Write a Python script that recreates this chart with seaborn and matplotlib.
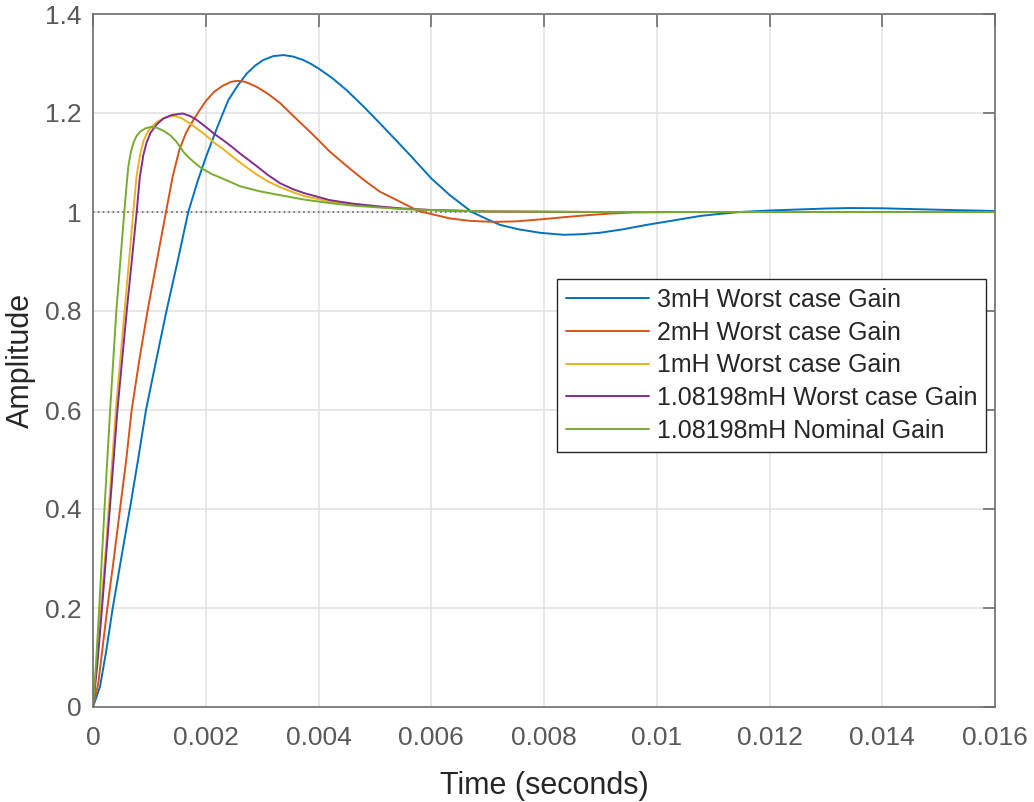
import matplotlib
matplotlib.use("Agg")
import matplotlib.pyplot as plt
import seaborn as sns
import pandas as pd

# Step responses: time in milliseconds, amplitude
t_3mh = [0, 0.124, 0.23, 0.35, 0.5, 0.668, 0.8, 0.94, 1.12, 1.307, 1.5, 1.69, 1.85, 2.0, 2.2, 2.4,
         2.57, 2.73, 2.88, 3.02, 3.2, 3.38, 3.55, 3.73, 3.87, 4.0, 4.25, 4.5, 4.8, 5.09, 5.4, 5.68,
         6.0, 6.33, 6.72, 7.0, 7.22, 7.55, 7.93, 8.34, 8.65, 8.99, 9.4, 9.82, 10.3, 10.77, 11.1,
         11.48, 12.0, 12.5, 13.0, 13.43, 14.0, 14.5, 15.2, 16.0]
a_3mh = [0, 0.041, 0.11, 0.2, 0.3, 0.41, 0.5, 0.6, 0.7, 0.802, 0.9, 1.0, 1.06, 1.11, 1.17, 1.226,
         1.256, 1.28, 1.296, 1.307, 1.315, 1.317, 1.314, 1.307, 1.299, 1.29, 1.27, 1.246, 1.213,
         1.179, 1.142, 1.108, 1.068, 1.034, 1.0, 0.985, 0.974, 0.965, 0.958, 0.954, 0.955, 0.958,
         0.965, 0.974, 0.983, 0.992, 0.996, 1.0, 1.003, 1.005, 1.007, 1.008, 1.0075, 1.006, 1.004,
         1.002]

t_2mh = [0, 0.094, 0.17, 0.254, 0.37, 0.49, 0.59, 0.686, 0.82, 0.97, 1.13, 1.295, 1.41, 1.53, 1.65,
         1.78, 1.9, 2.0, 2.15, 2.3, 2.45, 2.56, 2.7, 2.9, 3.1, 3.32, 3.5, 3.7, 3.85, 4.0, 4.2, 4.5,
         4.8, 5.09, 5.39, 5.77, 6.0, 6.33, 6.7, 7.1, 7.5, 7.93, 8.4, 8.82, 9.2, 9.58, 10.5, 12.0,
         14.0, 16.0]
a_2mh = [0, 0.048, 0.12, 0.2, 0.3, 0.41, 0.5, 0.6, 0.7, 0.802, 0.9, 1.0, 1.07, 1.125, 1.16,
         1.186, 1.207, 1.224, 1.243, 1.255, 1.263, 1.265, 1.263, 1.253, 1.239, 1.22, 1.2, 1.178,
         1.162, 1.145, 1.122, 1.093, 1.065, 1.041, 1.024, 1.002, 0.996, 0.987, 0.982, 0.98, 0.981,
         0.985, 0.99, 0.994, 0.997, 0.999, 1.0, 1.0, 1.0, 1.0]

t_1mh = [0, 0.07, 0.142, 0.22, 0.29, 0.405, 0.562, 0.715, 0.77, 0.834, 0.9, 0.97, 1.04, 1.15,
         1.25, 1.35, 1.455, 1.58, 1.72, 1.85, 2.0, 2.15, 2.31, 2.45, 2.61, 2.75, 2.9, 3.1, 3.32,
         3.55, 3.75, 4.2, 4.6, 5.09, 5.5, 6.0, 7.0, 9.0, 12.0, 16.0]
a_1mh = [0, 0.09, 0.2, 0.31, 0.418, 0.6, 0.802, 1.0, 1.07, 1.115, 1.145, 1.162, 1.172, 1.183,
         1.189, 1.193, 1.194, 1.189, 1.179, 1.168, 1.155, 1.14, 1.127, 1.114, 1.1, 1.088, 1.076,
         1.062, 1.05, 1.04, 1.032, 1.021, 1.015, 1.01, 1.006, 1.004, 1.001, 1.0, 1.0, 1.0]

t_wc = [0, 0.08, 0.16, 0.30, 0.435, 0.6, 0.775, 0.83, 0.893, 0.95, 1.02, 1.13, 1.25, 1.4, 1.59,
        1.72, 1.84, 2.0, 2.15, 2.31, 2.45, 2.61, 2.75, 2.9, 3.1, 3.32, 3.55, 3.75, 4.2, 4.6, 5.09,
        5.5, 6.0, 7.0, 9.0, 12.0, 16.0]
a_wc = [0, 0.09, 0.2, 0.403, 0.602, 0.802, 1.0, 1.07, 1.115, 1.14, 1.16, 1.177, 1.189, 1.196,
        1.199, 1.194, 1.186, 1.172, 1.158, 1.145, 1.133, 1.118, 1.106, 1.093, 1.075, 1.058, 1.046,
        1.038, 1.024, 1.017, 1.011, 1.007, 1.004, 1.001, 1.0, 1.0, 1.0]

t_nom = [0, 0.055, 0.11, 0.205, 0.305, 0.415, 0.555, 0.6, 0.627, 0.67, 0.715, 0.77, 0.834, 0.93,
         1.03, 1.14, 1.25, 1.37, 1.48, 1.6, 1.72, 1.82, 1.93, 2.1, 2.31, 2.61, 2.95, 3.32, 3.75,
         4.2, 4.6, 5.09, 5.5, 5.98, 7.0, 9.0, 12.0, 16.0]
a_nom = [0, 0.09, 0.2, 0.403, 0.602, 0.802, 1.0, 1.06, 1.092, 1.12, 1.139, 1.153, 1.162, 1.169,
         1.172, 1.17, 1.164, 1.155, 1.142, 1.122, 1.108, 1.098, 1.088, 1.077, 1.067, 1.052, 1.042,
         1.034, 1.025, 1.018, 1.013, 1.009, 1.006, 1.004, 1.001, 1.0, 1.0, 1.0]

labels = ["3mH Worst case Gain", "2mH Worst case Gain", "1mH Worst case Gain",
          "1.08198mH Worst case Gain", "1.08198mH Nominal Gain"]
colors = ["#0072BD", "#D95319", "#EDB120", "#7E2F8E", "#77AC30"]

x_ticks = [0, 0.002, 0.004, 0.006, 0.008, 0.01, 0.012, 0.014, 0.016]
x_tick_labels = ["0", "0.002", "0.004", "0.006", "0.008", "0.01", "0.012", "0.014", "0.016"]
y_ticks = [0, 0.2, 0.4, 0.6, 0.8, 1.0, 1.2, 1.4]
y_tick_labels = ["0", "0.2", "0.4", "0.6", "0.8", "1", "1.2", "1.4"]

series = [(t_3mh, a_3mh), (t_2mh, a_2mh), (t_1mh, a_1mh), (t_wc, a_wc), (t_nom, a_nom)]
frames = []
for (t, a), lab in zip(series, labels):
    frames.append(pd.DataFrame({"Time": [v / 1000.0 for v in t], "Amplitude": a, "Case": lab}))
df = pd.concat(frames, ignore_index=True)

sns.set_style("white")
plt.rcParams["font.family"] = ["Liberation Sans", "DejaVu Sans"]

fig = plt.figure(figsize=(10.34, 8.02), dpi=100)
ax = fig.add_axes([93 / 1034, 1 - 707 / 802, 902 / 1034, 693 / 802])

# steady-state reference line
ax.axhline(1.0, color="#555555", ls=(0, (1, 2.2)), lw=1.1, zorder=1)

sns.lineplot(data=df, x="Time", y="Amplitude", hue="Case", palette=colors,
             hue_order=labels, sort=False, estimator=None, lw=1.4, ax=ax, zorder=2)

ax.set_xlim(0, 0.016)
ax.set_ylim(0, 1.4)
ax.set_xticks(x_ticks)
ax.set_xticklabels(x_tick_labels)
ax.set_yticks(y_ticks)
ax.set_yticklabels(y_tick_labels)

ax.grid(True, color="#e3e3e3", lw=1.2, zorder=0)
ax.set_axisbelow(True)
for s in ax.spines.values():
    s.set_color("#6e6e6e")
    s.set_linewidth(1.2)
ax.tick_params(axis="both", which="major", direction="in", length=9, width=1.2,
               color="#6e6e6e", labelsize=19, labelcolor="#595959",
               top=True, right=True)
ax.tick_params(axis="y", pad=8.5)
ax.tick_params(axis="x", pad=13.6)

ax.set_xlabel("Time (seconds)", fontsize=22, color="#262626", labelpad=15)
ax.set_ylabel("Amplitude", fontsize=22, color="#262626")
ax.yaxis.set_label_coords(-0.0632, 0.5)

leg = ax.legend(loc="upper right", bbox_to_anchor=(0.990, 0.6176), fontsize=18,
                frameon=True, fancybox=False, framealpha=1, edgecolor="#262626",
                handlelength=3.33, handletextpad=0.3, labelspacing=0.35, borderpad=0.35,
                borderaxespad=0)
leg.get_frame().set_linewidth(1.0)

fig.savefig("out.png", dpi=100)
